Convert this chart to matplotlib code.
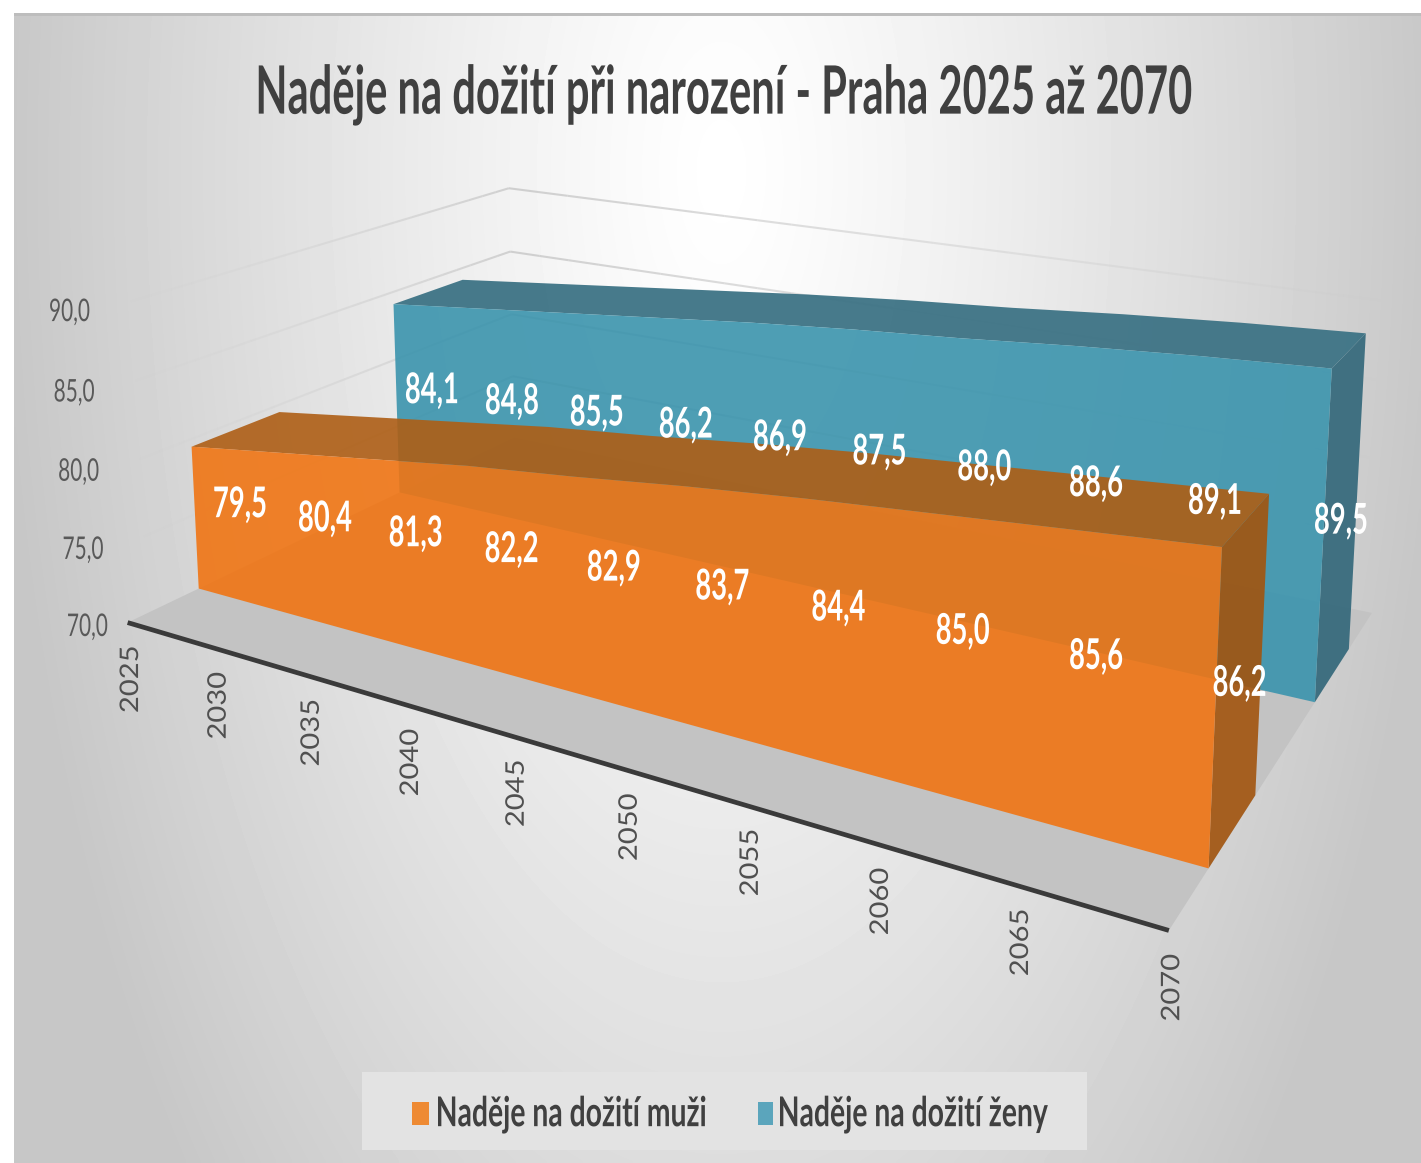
import numpy as np
import matplotlib
matplotlib.use("Agg")
import matplotlib.pyplot as plt
from matplotlib.font_manager import FontProperties
from matplotlib.patches import Rectangle
from matplotlib.text import Text
from matplotlib.textpath import TextPath
from matplotlib.transforms import Affine2D, Bbox
from mpl_toolkits.mplot3d import proj3d
from mpl_toolkits.mplot3d.art3d import Line3DCollection, Poly3DCollection

TITLE = "Naděje na dožití při narození - Praha 2025 až 2070"
YEARS = [2025, 2030, 2035, 2040, 2045, 2050, 2055, 2060, 2065, 2070]
MUZI = [79.5, 80.4, 81.3, 82.2, 82.9, 83.7, 84.4, 85.0, 85.6, 86.2]
ZENY = [84.1, 84.8, 85.5, 86.2, 86.9, 87.5, 88.0, 88.6, 89.1, 89.5]
VALUE_TICKS = [70, 75, 80, 85, 90]
LEGEND_MUZI = "Naděje na dožití muži"
LEGEND_ZENY = "Naděje na dožití ženy"

W, H = 1421, 1163
BASE = 70.0
DEPTH_TOTAL = 5.0
DEPTH_M = (0.75, 1.75)
DEPTH_Z = (3.25, 4.25)

# Camera calibration: (category index, depth, value above base) -> image pixel
CAL_3D = [(0, 0, 0), (9, 0, 0), (9, 5, 0),
          (0, .75, 9.5), (0, 1.75, 9.5), (0, .75, 0),
          (9, .75, 16.2), (9, 1.75, 16.2), (9, .75, 0), (9, 1.75, 0),
          (0, 3.25, 14.1), (0, 4.25, 14.1), (0, 3.25, 0),
          (9, 3.25, 19.5), (9, 4.25, 19.5), (9, 3.25, 0), (9, 4.25, 0),
          (0, 5, 20), (0, 5, 15)]
CAL_PX = [(128, 622), (1170, 932), (1371, 613),
          (192, 446), (279, 413), (198, 589),
          (1222, 546), (1268, 496), (1208, 867), (1255, 795),
          (394, 304), (461, 281), (400, 492),
          (1332, 367), (1366, 334), (1315, 702), (1350, 649),
          (510, 187), (510, 252)]


def fit_camera():
    rows, rhs = [], []
    for (X, Y, Z), (u, v) in zip(CAL_3D, CAL_PX):
        u, v = u / 1000, v / 1000
        rows.append([X, Y, Z, 1, 0, 0, 0, 0, -u * X, -u * Y, -u * Z]); rhs.append(u)
        rows.append([0, 0, 0, 0, X, Y, Z, 1, -v * X, -v * Y, -v * Z]); rhs.append(v)
    p = np.linalg.lstsq(np.array(rows, float), np.array(rhs), rcond=None)[0]
    p = np.append(p, 1.0).reshape(3, 4)
    p[:2] *= 1000
    scale = np.array([[1 / 5, 0, 0, -YEARS[0] / 5], [0, 1, 0, 0],
                      [0, 0, 1, -BASE], [0, 0, 0, 1]])
    p = p @ scale
    return np.array([p[0], H * p[2] - p[1], [0, 1, 0, 0], p[2]])


CAMERA = fit_camera()


class StretchedText(Text):
    """Real text artist drawn with an anisotropic glyph scale (the source image is squeezed)."""

    def __init__(self, x, y, s, sx=1.0, sy=1.0, **kw):
        super().__init__(x, y, s, **kw)
        self.sx, self.sy = sx, sy

    def _geom(self):
        fp = self.get_fontproperties()
        px = fp.get_size_in_points() * self.get_figure().dpi / 72
        path = TextPath((0, 0), self.get_text(), size=px, prop=fp)
        bb = path.get_extents()
        cap = TextPath((0, 0), "0", size=px, prop=fp).get_extents().height
        dx = -bb.x0 if self.get_ha() == "left" else -(bb.x0 + bb.x1) / 2
        pos = self.get_transform().transform(self.get_unitless_position())
        tr = (Affine2D().translate(dx, -cap / 2).rotate_deg(self.get_rotation())
              .scale(self.sx, self.sy).translate(*pos))
        return path, tr

    def draw(self, renderer):
        if not self.get_visible() or not self.get_text():
            return
        path, tr = self._geom()
        gc = renderer.new_gc()
        gc.set_linewidth(0)
        renderer.draw_path(gc, path, tr, matplotlib.colors.to_rgb(self.get_color()))
        gc.restore()

    def get_window_extent(self, renderer=None, dpi=None):
        path, tr = self._geom()
        return Bbox(path.transformed(tr).get_extents().get_points())


fig = plt.figure(figsize=(W / 100, H / 100), dpi=100, facecolor="white")

# background panel
bg = fig.add_axes([0, 0, 1, 1], zorder=0)
bg.axis("off")
gx, gy = np.meshgrid(np.arange(14, W, 4), np.arange(14, H, 4))
rho = np.minimum(np.hypot((gx - 720) / 720, (gy - 170) / 1500), 1.0)
bg.imshow(1 - 0.22 * rho ** 1.2, cmap="gray", vmin=0, vmax=1, extent=(14, W, H, 14),
          interpolation="bilinear", aspect="auto")
bg.set_xlim(0, W); bg.set_ylim(H, 0)
bg.add_patch(Rectangle((14, 13), W - 14, 3, fc="#BDBDBD", ec="none"))

# 3-D axes with a calibrated camera
ax = fig.add_axes([0, 0, 1, 1], projection="3d", zorder=1, computed_zorder=False)
ax.patch.set_alpha(0)
ax.set_axis_off()
ax.set_autoscale_on(False)
ax.get_proj = lambda: CAMERA
ax.apply_aspect = lambda position=None: None
ax.viewLim.intervalx = (0, W)
ax.viewLim.intervaly = (0, H)

x_first, x_last = YEARS[0], YEARS[-1]


def add_poly(verts, color, order):
    col = Poly3DCollection([verts], facecolors=[color], edgecolors="none", zorder=order)
    ax.add_collection3d(col, autolim=False)


def add_lines(points, color, lw, order):
    col = Line3DCollection([points], colors=[color], linewidths=lw, zorder=order)
    ax.add_collection3d(col, autolim=False)


def add_fading(p0, p1, a0, a1, lw, order):
    """Wall gridline whose opacity fades along its length."""
    p0, p1 = np.array(p0, float), np.array(p1, float)
    ts = np.linspace(0, 1, 25)
    segs = [[p0 + (p1 - p0) * s, p0 + (p1 - p0) * e] for s, e in zip(ts[:-1], ts[1:])]
    cols = [(0.80, 0.80, 0.80, a0 + (a1 - a0) * s) for s in ts[:-1]]
    ax.add_collection3d(Line3DCollection(segs, colors=cols, linewidths=lw, zorder=order), autolim=False)


def add_series(vals, depth, front, top, side, order):
    d0, d1 = depth
    add_poly([(x_last, d0, BASE), (x_last, d1, BASE), (x_last, d1, vals[-1]), (x_last, d0, vals[-1])],
             side, order)
    top_v = [(y, d0, v) for y, v in zip(YEARS, vals)] + [(y, d1, v) for y, v in zip(YEARS[::-1], vals[::-1])]
    add_poly(top_v, top, order + 1)
    front_v = [(x_first, d0, BASE)] + [(y, d0, v) for y, v in zip(YEARS, vals)] + [(x_last, d0, BASE)]
    add_poly(front_v, front, order + 2)


# gridlines on the walls
for v in VALUE_TICKS[1:]:
    add_fading((x_first, 0, v), (x_first, DEPTH_TOTAL, v), 0.0, 0.9, 1.5, 0.5)
    add_fading((x_first, DEPTH_TOTAL, v), (x_last, DEPTH_TOTAL, v), 0.9, 0.15, 1.5, 0.5)
# floor
add_poly([(x_first, 0, BASE), (x_last, 0, BASE), (x_last, DEPTH_TOTAL, BASE), (x_first, DEPTH_TOTAL, BASE)],
         (0.765, 0.765, 0.765, 1), 1)

add_series(ZENY, DEPTH_Z, (0.23, 0.58, 0.68, .9), (0.24, 0.45, 0.52, .95), (0.22, 0.42, 0.49, .95), 2)
add_series(MUZI, DEPTH_M, (0.94, 0.46, 0.08, .9), (0.684, 0.367, 0.083, .9), (0.635, 0.33, 0.056, .9), 6)

add_lines([(x_first, 0, BASE), (x_last, 0, BASE)], "#3A3A3A", 3.4, 10)


def to_px(year, d, v):
    xs, ys, _ = proj3d.proj_transform(year, d, v, CAMERA)
    return float(xs), H - float(ys)


# overlay for text
ov = fig.add_axes([0, 0, 1, 1], zorder=3)
ov.set_xlim(0, W); ov.set_ylim(H, 0); ov.axis("off"); ov.patch.set_alpha(0)


def put(x, y, s, size, color, weight="normal", sx=1.0, sy=1.0, rot=0, ha="center"):
    t = StretchedText(x, y, s, sx=sx, sy=sy, color=color, rotation=rot, ha=ha, va="center",
                      fontproperties=FontProperties(family="Lato", weight=weight, size=size),
                      transform=ov.transData, clip_on=False)
    ov.add_artist(t)
    return t


put(725, 89, TITLE, 30, "#404040", "bold", sy=1.6)

for v in VALUE_TICKS:
    px, py = to_px(x_first, 0, v)
    put(px - 40, py + 2, f"{v:.1f}".replace(".", ","), 15, "#595959", sy=1.5)

for y in YEARS:
    px, py = to_px(y, 0, BASE)
    put(px + 1, py + 57, str(y), 21, "#505050", sx=0.88, rot=90)

for vals, (d0, d1) in ((ZENY, DEPTH_Z), (MUZI, DEPTH_M)):
    for y, v in zip(YEARS, vals):
        px, py = to_px(y, (d0 + d1) / 2, (BASE + v) / 2)
        put(px, py + 3, f"{v:.1f}".replace(".", ","), 19.7, "white", "bold", sy=1.55)

# legend
ov.add_patch(Rectangle((362, 1072), 725, 78, fc="#E3E3E3", ec="none", zorder=1))
ov.add_patch(Rectangle((412, 1102), 17, 23, fc="#EE8A33", ec="none", zorder=2))
ov.add_patch(Rectangle((758, 1102), 15, 23, fc="#5BA5BC", ec="none", zorder=2))
put(438, 1111, LEGEND_MUZI, 20.4, "#404040", "bold", sy=1.45, ha="left")
put(780, 1111, LEGEND_ZENY, 20.4, "#404040", "bold", sy=1.45, ha="left")

fig.savefig("out.png", dpi=100)
